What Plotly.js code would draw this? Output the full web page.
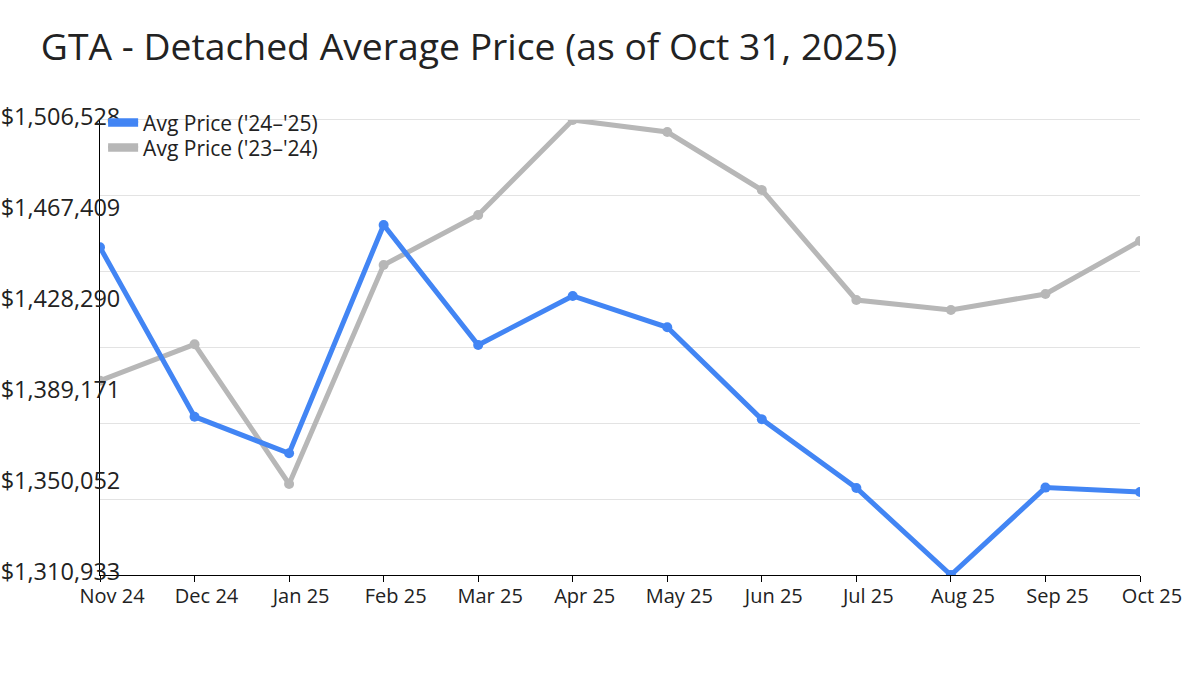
<!DOCTYPE html>
<html>
<head>
<meta charset="utf-8">
<script src="https://cdn.plot.ly/plotly-3.0.1.min.js"></script>
<style>html,body{margin:0;padding:0;background:#fff;}#chart{width:1200px;height:675px;}</style>
</head>
<body>
<div id="chart"></div>
<script>
const months = ["Nov 24","Dec 24","Jan 25","Feb 25","Mar 25","Apr 25","May 25","Jun 25","Jul 25","Aug 25","Sep 25","Oct 25"];
const price2425 = [1451805,1378983,1363249,1461391,1409805,1430870,1417414,1377865,1348333,1310933,1348500,1346613];
const price2324 = [1394459,1410106,1350052,1444196,1465690,1506528,1501370,1476437,1429150,1424851,1431729,1454513];
const yTickVals = [1310933,1350052,1389171,1428290,1467409,1506528];
const seriesNames = ["Avg Price ('24\u2013'25)","Avg Price ('23\u2013'24)"];
const blue = "#4285f4", gray = "#b7b7b7", gridColor = "#e3e3e3";

const yMin = yTickVals[0], yMax = yTickVals[yTickVals.length-1];

const data = [
  {x: months, y: price2324, type:"scatter", mode:"lines+markers", name: seriesNames[1], showlegend:false,
   line:{color:gray, width:5}, marker:{color:gray, size:10}, yaxis:"y", hoverinfo:"x+y"},
  {x: months, y: price2425, type:"scatter", mode:"lines+markers", name: seriesNames[0], showlegend:false,
   line:{color:blue, width:5}, marker:{color:blue, size:10}, yaxis:"y2", hoverinfo:"x+y"},
  {x:[null], y:[null], type:"scatter", mode:"lines", fill:"toself", fillcolor:blue, name: seriesNames[0],
   line:{color:blue, width:5}, hoverinfo:"skip", legend:"legend", xaxis:"x2"},
  {x:[null], y:[null], type:"scatter", mode:"lines", fill:"toself", fillcolor:gray, name: seriesNames[1],
   line:{color:gray, width:5}, hoverinfo:"skip", legend:"legend2", xaxis:"x2"}
];

const legendStyle = (yPos) => ({x:0.003, xanchor:"left", y:yPos, yanchor:"middle", bgcolor:"rgba(0,0,0,0)",
  font:{size:21, color:"#222"}, tracegroupgap:0, itemwidth:30});

const layout = {
  width:1200, height:675,
  paper_bgcolor:"#fff", plot_bgcolor:"#fff",
  font:{family:"Open Sans, sans-serif", color:"#222", size:20},
  margin:{l:100, r:60, t:120, b:100, pad:0},
  title:{text:"GTA - Detached Average Price (as of Oct 31, 2025)", x:0.034, xanchor:"left", y:0.93, yanchor:"middle",
         font:{size:37.3, color:"#222", family:"Open Sans, sans-serif"}},
  showlegend:true,
  legend:legendStyle(0.9934),
  legend2:legendStyle(0.9385),
  xaxis:{type:"category", range:[0, months.length-1], showline:true, linecolor:"#000", linewidth:1,
         ticks:"outside", ticklen:6, tickcolor:"#000", showgrid:false, zeroline:false,
         tickfont:{size:20, color:"#222"}, ticklabelshift:12, ticklabelstandoff:-3, fixedrange:true},
  xaxis2:{overlaying:"x", side:"top", range:[0,1], showline:true, linecolor:gridColor, linewidth:1,
          showgrid:false, zeroline:false, showticklabels:false, ticks:"", fixedrange:true},
  yaxis:{range:[yMin, yMax], tickmode:"array", tickvals:yTickVals, tickformat:"$,.0f",
         showline:true, linecolor:"#000", linewidth:1, ticks:"", showgrid:false, zeroline:false,
         tickfont:{size:23.5, color:"#222"}, ticklabelstandoff:-26, ticklabelshift:-3, fixedrange:true},
  yaxis2:{overlaying:"y", range:[yMin, yMax], tickmode:"linear", tick0:yMin, dtick:(yMax-yMin)/6 - 0.01,
          showgrid:true, gridcolor:gridColor, gridwidth:1, showticklabels:false, showline:false, zeroline:false, ticks:"", fixedrange:true}
};

Plotly.newPlot("chart", data, layout, {displayModeBar:false, staticPlot:true});
</script>
</body>
</html>
